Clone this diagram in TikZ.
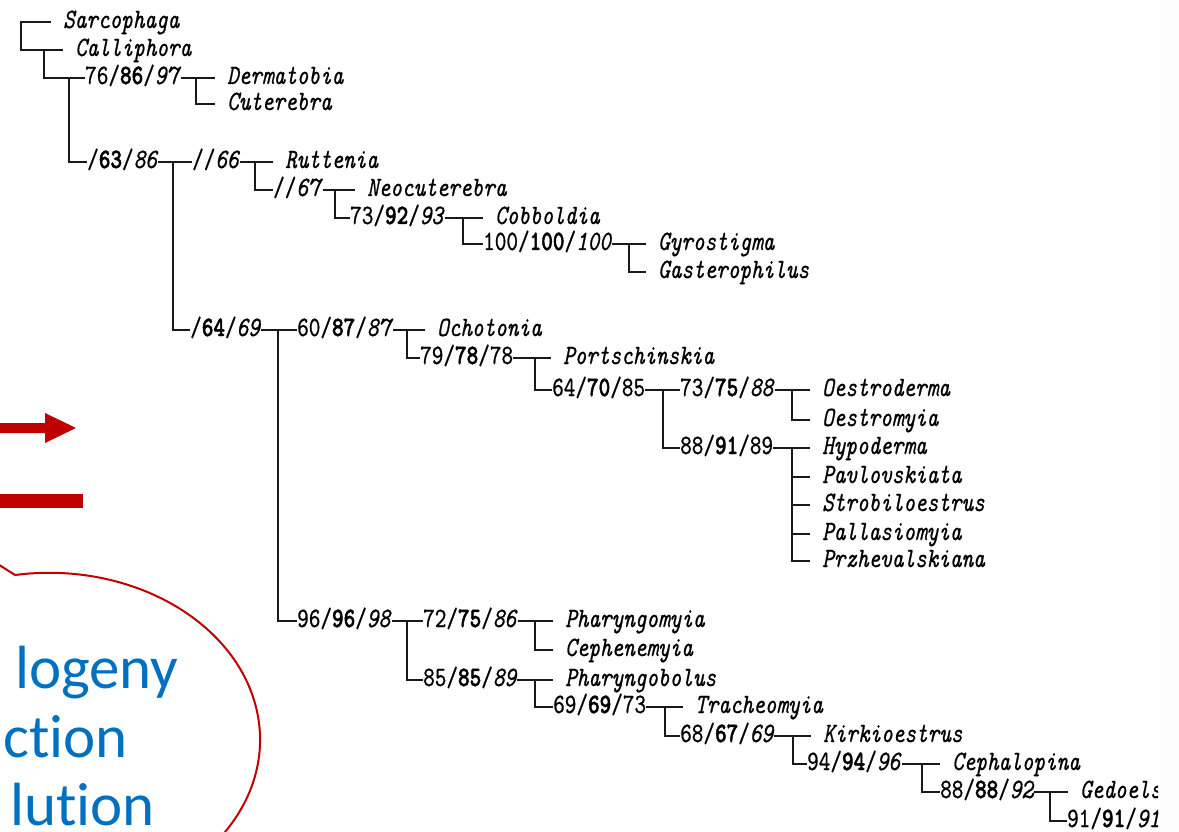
\documentclass[tikz,border=0pt]{standalone}
\usepackage{fontspec}
\newfontfamily\treefont{lmmono10-regular.otf}[
  FakeStretch=0.79,
  FakeBold=0.7,
  ItalicFont=lmmono10-italic.otf,
  BoldFont=lmmonolt10-bold.otf,
  BoldFeatures={FakeBold=1.6}]
\newfontfamily\notefont{Carlito}[Ligatures=NoCommon]

\definecolor{calloutred}{RGB}{192,0,0}
\definecolor{noteblue}{RGB}{0,112,192}

% support values: first/bold second/third
\newcommand{\sv}[3]{#1/\textbf{#2}/#3}

\tikzset{
  taxon/.style={anchor=west, inner xsep=12pt, inner ysep=0pt,
    text height=17pt, text depth=5pt,
    font=\treefont\fontsize{28}{32}\selectfont\itshape},
  supp/.style={anchor=west, inner sep=0pt,
    text height=17pt, text depth=5pt,
    font=\treefont\fontsize{28}{32}\selectfont},
  branch/.style={draw=black!90, line width=2.1pt},
  note/.style={anchor=base west, inner sep=0pt, text=noteblue,
    font=\notefont\fontsize{61}{73}\selectfont}
}

\begin{document}
\begin{tikzpicture}[x=1pt, y=-1pt]
\useasboundingbox (0,0) rectangle (1179,832);
\clip (0,0) rectangle (1179,832);

\begin{scope}
\clip (0,0) rectangle (1158,832);
% taxa
\node (sarc) at (51,22) [taxon] {Sarcophaga};
\node (calli) at (63,50) [taxon] {Calliphora};
\node (derm) at (215,78) [taxon] {Dermatobia};
\node (cute) at (215,104) [taxon] {Cuterebra};
\node (rutt) at (273,162) [taxon] {Ruttenia};
\node (neoc) at (355,190) [taxon] {Neocuterebra};
\node (cobb) at (483,218) [taxon] {Cobboldia};
\node (gyro) at (646,244) [taxon] {Gyrostigma};
\node (gast) at (646,272) [taxon] {Gasterophilus};
\node (ocho) at (425,330) [taxon] {Ochotonia};
\node (port) at (551,358) [taxon] {Portschinskia};
\node (oesd) at (810,390) [taxon] {Oestroderma};
\node (oesm) at (810,420) [taxon] {Oestromyia};
\node (hypo) at (810,448) [taxon] {Hypoderma};
\node (pavl) at (810,477) [taxon] {Pavlovskiata};
\node (stro) at (810,505) [taxon] {Strobiloestrus};
\node (pall) at (810,534) [taxon] {Pallasiomyia};
\node (przh) at (810,561) [taxon] {Przhevalskiana};
\node (phgm) at (553,621) [taxon] {Pharyngomyia};
\node (ceph) at (553,650) [taxon] {Cephenemyia};
\node (phgb) at (553,680) [taxon] {Pharyngobolus};
\node (trac) at (683,707) [taxon] {Tracheomyia};
\node (kirk) at (811,736) [taxon] {Kirkioestrus};
\node (cpin) at (940,764) [taxon] {Cephalopina};
\node (gedo) at (1068,792) [taxon] {Gedoels};

% support values
\node (s86) at (85,78) [supp] {\sv{76}{86}{\textit{97}}};
\node (s63) at (87,162) [supp] {\sv{}{63}{\textit{86}}};
\node (s66) at (192,162) [supp] {\sv{}{}{\textit{66}}};
\node (s67) at (273,190) [supp] {\sv{}{}{\textit{67}}};
\node (s92) at (350,218) [supp] {\sv{73}{92}{\textit{93}}};
\node (s100) at (483,244) [supp] {\sv{100}{100}{\textit{100}}};
\node (s64) at (190,330) [supp] {\sv{}{64}{\textit{69}}};
\node (s87) at (297,330) [supp] {\sv{60}{87}{\textit{87}}};
\node (s78) at (420,358) [supp] {\sv{79}{78}{78}};
\node (s70) at (552,390) [supp] {\sv{64}{70}{85}};
\node (s75a) at (680,390) [supp] {\sv{73}{75}{\textit{88}}};
\node (s91a) at (680,448) [supp] {\sv{88}{91}{89}};
\node (s96) at (297,621) [supp] {\sv{96}{96}{\textit{98}}};
\node (s75b) at (423,621) [supp] {\sv{72}{75}{\textit{86}}};
\node (s85) at (423,680) [supp] {\sv{85}{85}{\textit{89}}};
\node (s69) at (553,707) [supp] {\sv{69}{69}{73}};
\node (s67b) at (680,736) [supp] {\sv{68}{67}{\textit{69}}};
\node (s94) at (807,764) [supp] {\sv{94}{94}{\textit{96}}};
\node (s88) at (940,792) [supp] {\sv{88}{88}{\textit{92}}};
\node (s91b) at (1067,821) [supp] {\sv{91}{91}{\textit{91}}};

% junctions
\coordinate (j0) at (21,22);
\coordinate (ja) at (44,50);
\coordinate (jb) at (69,78);
\coordinate (j86) at (196,78);
\coordinate (j63) at (173,162);
\coordinate (j66) at (255,162);
\coordinate (j67) at (335,190);
\coordinate (j92) at (463,218);
\coordinate (j100) at (629,244);
\coordinate (j64) at (278,330);
\coordinate (j87) at (407,330);
\coordinate (j78) at (535,358);
\coordinate (j70) at (663,390);
\coordinate (j75a) at (792,390);
\coordinate (j91a) at (792,448);
\coordinate (j96) at (407,621);
\coordinate (j75b) at (535,621);
\coordinate (j85) at (535,680);
\coordinate (j69) at (665,707);
\coordinate (j67b) at (793,736);
\coordinate (j94) at (922,764);
\coordinate (j88) at (1050,792);

\draw[branch] (sarc.west) -- (j0) |- (calli.west);
\draw[branch] (ja) |- (s86.west);
\draw[branch] (jb) |- (s63.west);
\foreach \p/\f/\s in {86/derm/cute, 63/s66/s64, 66/rutt/s67, 67/neoc/s92,
    92/cobb/s100, 100/gyro/gast, 64/s87/s96, 87/ocho/s78, 78/port/s70,
    70/s75a/s91a, 75a/oesd/oesm, 91a/hypo/przh, 96/s75b/s85, 75b/phgm/ceph,
    85/phgb/s69, 69/trac/s67b, 67b/kirk/s94, 94/cpin/s88, 88/gedo/s91b}{
  \draw[branch] (s\p.east) -- (\f.west);
  \draw[branch] (j\p) |- (\s.west);
}
\foreach \t in {pavl,stro,pall}
  \draw[branch] (j91a |- \t.west) -- (\t.west);
\end{scope}
\fill[black!1] (1160,0) rectangle (1179,832);

% red marks on the left
\fill[calloutred] (-5,423) -- (45,423) -- (45,413) -- (76,428) -- (45,443) -- (45,433) -- (-5,433) -- cycle;
\fill[calloutred] (-5,494) rectangle (83,508);

% callout
\draw[calloutred, line width=2pt] (-40,540) -- (15,575)
  arc[start angle=-99.3, end angle=100, x radius=211, y radius=167];
\node (ph) at (15,688) [note] {logeny};
\node (re) at (3,757) [note] {ction};
\node (ev) at (10,825) [note] {lution};
\end{tikzpicture}
\end{document}
